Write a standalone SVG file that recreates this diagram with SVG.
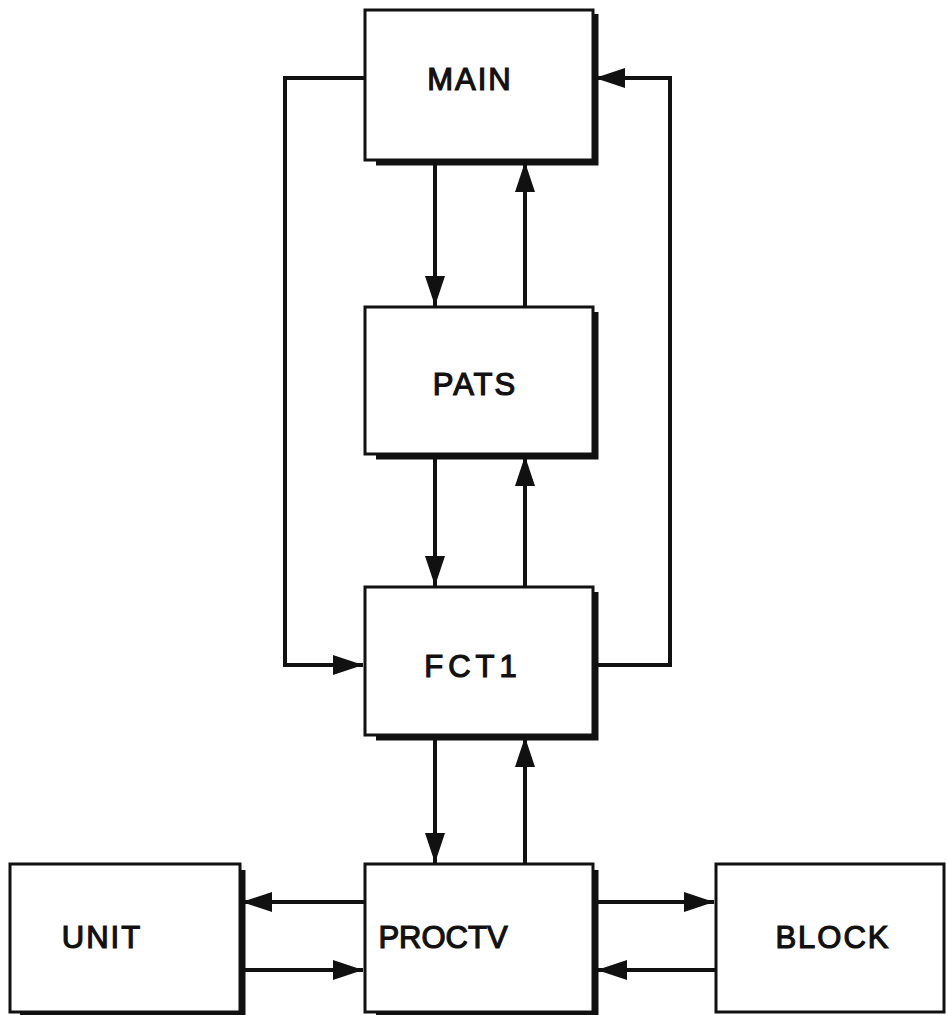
<svg xmlns="http://www.w3.org/2000/svg" width="946" height="1015" viewBox="0 0 946 1015">
<style>
.box{fill:#fff;stroke:#111;stroke-width:3}
.sh{fill:none;stroke:#111;stroke-width:5}
.lbl{font-family:"Liberation Sans",Arial,sans-serif;font-size:31px;font-weight:normal;fill:#111;stroke:#111;stroke-width:1.2;text-anchor:middle;letter-spacing:2px}
.c{fill:none;stroke:#111;stroke-width:4}
</style>
<defs>
<marker id="ah" viewBox="0 0 30 20" refX="30" refY="10" markerWidth="30" markerHeight="20" markerUnits="userSpaceOnUse" orient="auto">
<path d="M0,0 L30,10 L0,20 Z" fill="#111"/>
</marker>
</defs>
<rect width="946" height="1015" fill="#fff"/>
<g id="connectors">
<polyline class="c" points="365,78 285,78 285,665 363,665" marker-end="url(#ah)"/>
<polyline class="c" points="595,665 670,665 670,78 595,78" marker-end="url(#ah)"/>
<line class="c" x1="435" y1="162" x2="435" y2="306" marker-end="url(#ah)"/>
<line class="c" x1="525" y1="307" x2="525" y2="162" marker-end="url(#ah)"/>
<line class="c" x1="435" y1="456" x2="435" y2="586" marker-end="url(#ah)"/>
<line class="c" x1="525" y1="587" x2="525" y2="456" marker-end="url(#ah)"/>
<line class="c" x1="435" y1="737" x2="435" y2="863" marker-end="url(#ah)"/>
<line class="c" x1="525" y1="864" x2="525" y2="737" marker-end="url(#ah)"/>
<line class="c" x1="365" y1="902" x2="242" y2="902" marker-end="url(#ah)"/>
<line class="c" x1="242" y1="970" x2="363" y2="970" marker-end="url(#ah)"/>
<line class="c" x1="595" y1="902" x2="714" y2="902" marker-end="url(#ah)"/>
<line class="c" x1="716" y1="970" x2="597" y2="970" marker-end="url(#ah)"/>
</g>
<g id="MAIN">
<polyline class="sh" points="596,14 596,163 376,163"/>
<rect class="box" x="365" y="10" width="228" height="150"/>
<text class="lbl" x="470" y="90">MAIN</text>
</g>
<g id="PATS">
<polyline class="sh" points="596,312 596,457 376,457"/>
<rect class="box" x="365" y="307" width="228" height="147"/>
<text class="lbl" x="475" y="395">PATS</text>
</g>
<g id="FCT1">
<polyline class="sh" points="596,592 596,738 376,738"/>
<rect class="box" x="365" y="587" width="228" height="148"/>
<text class="lbl" x="473" y="677" style="letter-spacing:5px">FCT1</text>
</g>
<g id="UNIT">
<polyline class="sh" points="243,870 243,1014 20,1014"/>
<rect class="box" x="10" y="864" width="230" height="148"/>
<text class="lbl" x="102" y="948">UNIT</text>
</g>
<g id="PROCTV">
<polyline class="sh" points="596,870 596,1014 376,1014"/>
<rect class="box" x="365" y="864" width="228" height="148"/>
<text class="lbl" x="443" y="948" style="letter-spacing:0px">PROCTV</text>
</g>
<g id="BLOCK">
<rect class="box" x="716" y="864" width="228" height="148"/>
<text class="lbl" x="833" y="948">BLOCK</text>
</g>
</svg>
